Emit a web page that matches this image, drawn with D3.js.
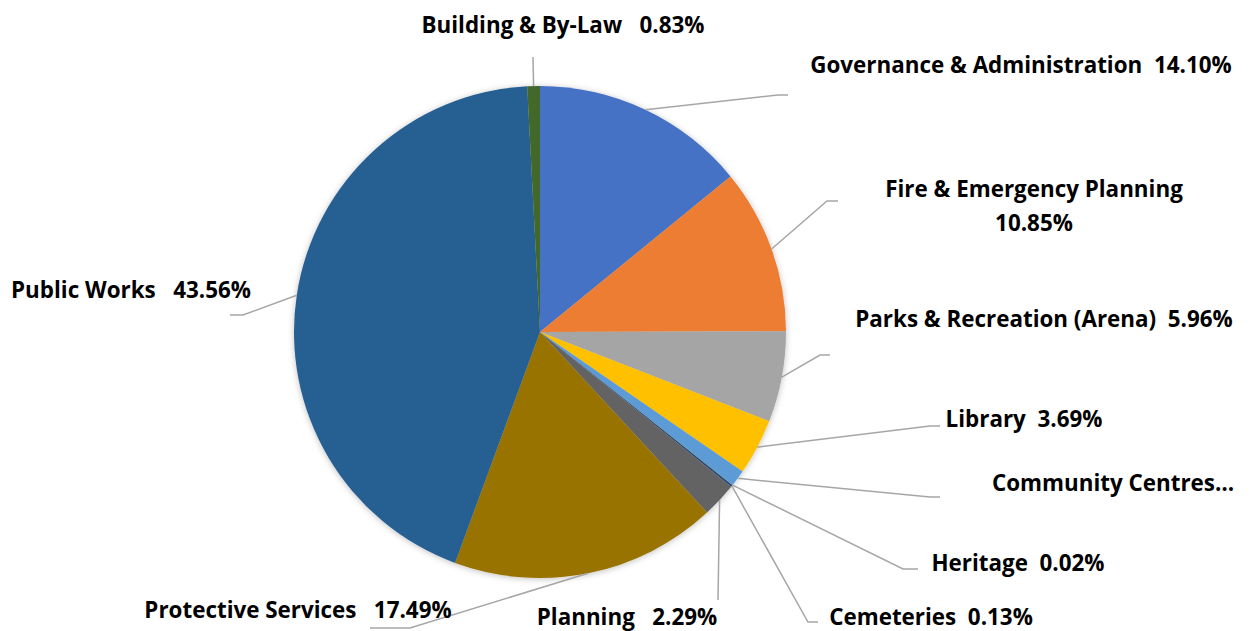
<!DOCTYPE html>
<html>
<head>
<meta charset="utf-8">
<script src="https://cdn.jsdelivr.net/npm/d3@7"></script>
<style>
  body { margin: 0; background: #fff; }
  text { font-family: "Open Sans", Lato, sans-serif; font-weight: 700; white-space: pre; }
</style>
</head>
<body>
<script>
// data, clockwise from 12 o'clock
var categories = ["Governance & Administration", "Fire & Emergency Planning", "Parks & Recreation (Arena)",
    "Library", "Community Centres", "Heritage", "Cemeteries", "Planning",
    "Protective Services", "Public Works", "Building & By-Law"];
var shares = [14.10, 10.85, 5.96, 3.69, 1.08, 0.02, 0.13, 2.29, 17.49, 43.56, 0.83];
var colors = ["#4472C4", "#ED7D31", "#A5A5A5", "#FFC000", "#5B9BD5", "#70AD47", "#264478",
    "#636363", "#997300", "#255E91", "#43682B"];
// label text lines as excel shows them
var labelLines = [
    ["Governance & Administration  14.10%"],
    ["Fire & Emergency Planning", "10.85%"],
    ["Parks & Recreation (Arena)  5.96%"],
    ["Library  3.69%"],
    ["Community Centres\u2026"],
    ["Heritage  0.02%"],
    ["Cemeteries  0.13%"],
    ["Planning   2.29%"],
    ["Protective Services   17.49%"],
    ["Public Works   43.56%"],
    ["Building & By-Law   0.83%"]
];

// layout: label centre x, baseline, leader elbow, leader end
var layout = [
    {lx: 1021, ly: 73, ex: 778, ey: 95, tx: 788},
    {lx: 1034, ly: 197, ex: 827, ey: 201, tx: 838},
    {lx: 1044, ly: 327, ex: 820, ey: 355, tx: 830},
    {lx: 1024, ly: 427, ex: 930, ey: 426, tx: 940},
    {lx: 1113, ly: 491, ex: 930, ey: 497, tx: 940},
    {lx: 1018, ly: 571, ex: 903, ey: 569, tx: 918},
    {lx: 931, ly: 625, ex: 808, ey: 622, tx: 818},
    {lx: 627, ly: 625, ex: 718, ey: 600, tx: 718},
    {lx: 298, ly: 618, ex: 410, ey: 628, tx: 370},
    {lx: 131, ly: 298, ex: 243, ey: 315, tx: 230},
    {lx: 563, ly: 33, ex: 533, ey: 57, tx: 533}
];

var W = 1253, H = 631;
var cx = 540, cy = 332, r = 246;

var svg = d3.select("body").append("svg")
    .attr("width", W)
    .attr("height", H);

var defs = svg.append("defs");
var f = defs.append("filter").attr("id", "shadow")
    .attr("x", "-10%").attr("y", "-10%").attr("width", "120%").attr("height", "120%");
f.append("feDropShadow")
    .attr("dx", 0).attr("dy", 1)
    .attr("stdDeviation", 3)
    .attr("flood-color", "#000")
    .attr("flood-opacity", 0.25);

var data = categories.map(function(c, i) { return {name: c, value: shares[i], i: i}; });

var pie = d3.pie()
    .sort(null)
    .value(function(d) { return d.value; });

var arc = d3.arc().innerRadius(0).outerRadius(r);
var edge = d3.arc().innerRadius(r).outerRadius(r);

var arcs = pie(data);

var g = svg.append("g")
    .attr("transform", "translate(" + cx + "," + cy + ")");

g.append("g")
    .attr("filter", "url(#shadow)")
    .selectAll("path")
    .data(arcs)
    .enter().append("path")
    .attr("d", arc)
    .attr("fill", function(d) { return colors[d.data.i]; });

// leader lines
svg.append("g").selectAll("polyline")
    .data(arcs)
    .enter().append("polyline")
    .attr("fill", "none")
    .attr("stroke", "#A6A6A6")
    .attr("stroke-width", 1.5)
    .attr("points", function(d) {
        var p = edge.centroid(d);
        var L = layout[d.data.i];
        return [[cx + p[0], cy + p[1]], [L.ex, L.ey], [L.tx, L.ey]].join(" ");
    });

// labels
var lab = svg.append("g").selectAll("text")
    .data(arcs)
    .enter().append("text")
    .attr("text-anchor", "middle")
    .attr("font-size", 22.4)
    .attr("fill", "#000")
    .attr("x", function(d) { return layout[d.data.i].lx; })
    .attr("y", function(d) { return layout[d.data.i].ly; });

lab.each(function(d) {
    var t = d3.select(this);
    labelLines[d.data.i].forEach(function(s, k) {
        t.append("tspan")
            .attr("x", layout[d.data.i].lx)
            .attr("dy", k === 0 ? 0 : 34)
            .text(s);
    });
});
</script>
</body>
</html>
